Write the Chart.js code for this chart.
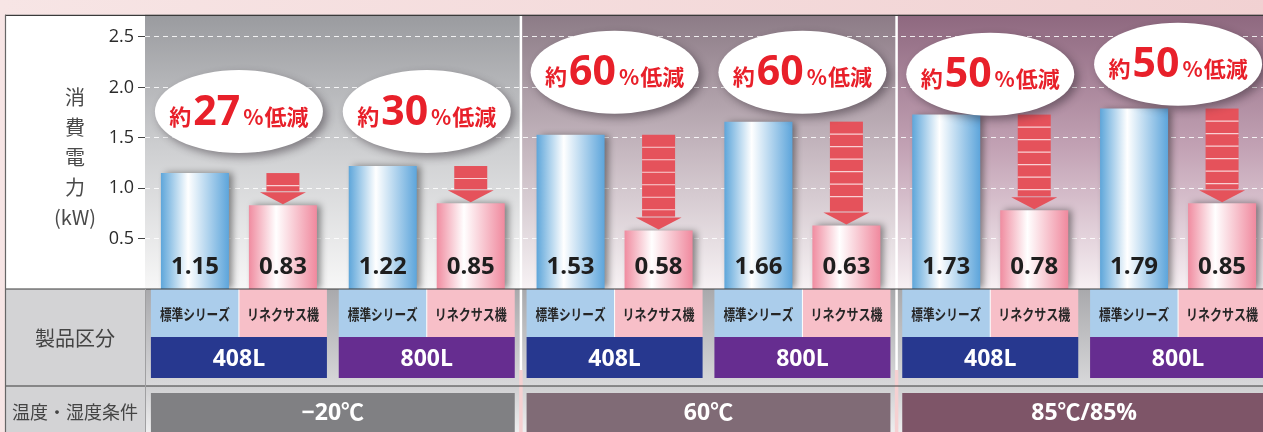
<!DOCTYPE html>
<html>
<head>
<meta charset="utf-8">
<script src="https://cdn.jsdelivr.net/npm/chart.js@4.4.1/dist/chart.umd.min.js"></script>
<style>
  html, body { margin: 0; padding: 0; overflow: hidden; background: #f6e2e2; }
  #wrap { width: 1272px; height: 432px; }
</style>
</head>
<body>
<div id="wrap"><canvas id="chart" width="1272" height="432"></canvas></div>
<script>
// data
const conditions = ['−20℃', '60℃', '85℃/85%'];
const capacities = ['408L', '800L', '408L', '800L', '408L', '800L'];
const seriesNames = ['標準シリーズ', 'リネクサス機'];
const standardKW = [1.15, 1.22, 1.53, 1.66, 1.73, 1.79];
const linexusKW = [0.83, 0.85, 0.58, 0.63, 0.78, 0.85];
const reductionPct = ['27', '30', '60', '60', '50', '50'];
const yTickValues = [0.5, 1.0, 1.5, 2.0, 2.5];
const axisTitle = ['消', '費', '電', '力', '(kW)'];
const rowTitles = ['製品区分', '温度・湿度条件'];

// layout / style
const calloutLevel = [1.76, 1.76, 2.15, 2.15, 2.13, 2.23]; // ellipse centre, in kW
const panelShades = [
  ['#9a9b9f', '#cfd0d2', '#f7f7f7'],
  ['#8c7b86', '#c6b8c0', '#f7f2f4'],
  ['#8e687f', '#c4a4b6', '#f7f0f3']
];
const tempColors = ['#808083', '#806b76', '#7e5568'];
const capColors = ['#27388f', '#662d90'];
const cellColors = ['#abcdeb', '#f7bfc8'];
const blueStops = ['#5ea6da', '#ffffff', '#5da5db'];
const pinkStops = ['#f08ca0', '#ffffff', '#f0899e'];
const JP = '"Noto Sans CJK JP", sans-serif';
const NUM = '"Open Sans", "Noto Sans CJK JP", sans-serif';
const ROW_SPLIT = 386;

function barFill(c, stops) {
  const el = c.chart.getDatasetMeta(c.datasetIndex).data[c.dataIndex];
  if (!el || !el.width) return stops[0];
  const g = c.chart.ctx.createLinearGradient(el.x - el.width / 2, 0, el.x + el.width / 2, 0);
  g.addColorStop(0, stops[0]);
  g.addColorStop(0.4, stops[1]);
  g.addColorStop(1, stops[2]);
  return g;
}

function panelEdges(chart) {
  const x = chart.scales.x;
  const half = (x.getPixelForValue(1) - x.getPixelForValue(0)) / 2;
  return conditions.map((c, p) => [x.getPixelForValue(2 * p) - half, x.getPixelForValue(2 * p + 1) + half]);
}

function text(ctx, s, x, y, font, color, maxW) {
  ctx.font = font;
  ctx.fillStyle = color;
  ctx.textAlign = 'center';
  ctx.textBaseline = 'middle';
  if (maxW) ctx.fillText(s, x, y, maxW); else ctx.fillText(s, x, y);
}

const decor = {
  id: 'decor',
  beforeDraw(chart) {
    const { ctx, chartArea: a, width, height } = chart;
    ctx.save();
    let g = ctx.createLinearGradient(0, 0, width, 0);
    g.addColorStop(0, '#f7e5e5');
    g.addColorStop(1, '#f1d1d2');
    ctx.fillStyle = g;
    ctx.fillRect(0, 0, width, height);

    ctx.fillStyle = '#ffffff';
    ctx.fillRect(5, a.top, a.left - 5, a.bottom - a.top);
    ctx.fillStyle = '#d3d3d5';
    ctx.fillRect(5, a.bottom, a.left - 5, height - a.bottom);

    const edges = panelEdges(chart);
    edges.forEach(([l, r], p) => {
      const pg = ctx.createLinearGradient(0, a.top, 0, a.bottom);
      pg.addColorStop(0, panelShades[p][0]);
      pg.addColorStop(0.5, panelShades[p][1]);
      pg.addColorStop(1, panelShades[p][2]);
      ctx.fillStyle = pg;
      ctx.fillRect(l, a.top, r - l, a.bottom - a.top);
    });

    // table background
    g = ctx.createLinearGradient(0, a.bottom, 0, ROW_SPLIT);
    g.addColorStop(0, '#a9a9ac');
    g.addColorStop(1, '#d8d8da');
    ctx.fillStyle = g;
    ctx.fillRect(a.left, a.bottom, width - a.left, ROW_SPLIT - a.bottom);
    g = ctx.createLinearGradient(0, ROW_SPLIT, 0, height);
    g.addColorStop(0, '#cfcfd1');
    g.addColorStop(1, '#eeeeef');
    ctx.fillStyle = g;
    ctx.fillRect(a.left, ROW_SPLIT, width - a.left, height - ROW_SPLIT);

    // panel separators
    edges.slice(1).forEach(([l]) => {
      ctx.fillStyle = '#ffffff';
      ctx.fillRect(l - 1, a.top, 2.5, 370 - a.top);
      ctx.fillStyle = '#f5d0d1';
      ctx.fillRect(l - 1.5, 370, 3.5, height - 370);
    });
    ctx.restore();
  },
  beforeDatasetsDraw(chart) {
    const ctx = chart.ctx;
    ctx.save();
    ctx.shadowColor = 'rgba(30,30,30,0.5)';
    ctx.shadowBlur = 7;
    ctx.shadowOffsetX = 4;
    ctx.shadowOffsetY = 0;
  },
  afterDatasetsDraw(chart) {
    const { ctx, chartArea: a } = chart;
    ctx.restore();
    const blue = chart.getDatasetMeta(0).data;
    const pink = chart.getDatasetMeta(1).data;
    const y = chart.scales.y;
    ctx.save();

    // arrows from standard level down to linexus level
    pink.forEach((pb, i) => {
      const top = blue[i].y;
      const tip = pb.y - 1;
      const head = 12;
      const shaftBottom = tip - head - 1;
      ctx.fillStyle = '#e5525b';
      ctx.fillRect(pb.x - 16.5, top, 33, shaftBottom - top);
      ctx.beginPath();
      ctx.moveTo(pb.x - 23, tip - head);
      ctx.lineTo(pb.x + 23, tip - head);
      ctx.lineTo(pb.x, tip);
      ctx.closePath();
      ctx.fill();
      ctx.strokeStyle = 'rgba(250,215,218,0.95)';
      ctx.lineWidth = 1.2;
      for (let s = top + 12.5; s < shaftBottom - 3; s += 12.5) {
        ctx.beginPath();
        ctx.moveTo(pb.x - 16.5, s);
        ctx.lineTo(pb.x + 16.5, s);
        ctx.stroke();
      }
    });

    // values inside bars
    [blue, pink].forEach((els, d) => {
      const vals = d === 0 ? standardKW : linexusKW;
      els.forEach((el, i) => text(ctx, vals[i].toFixed(2), el.x, a.bottom - 22, `bold 24px ${NUM}`, '#1e1e1e'));
    });

    // callout ellipses
    blue.forEach((bb, i) => {
      const cx = (bb.x + pink[i].x) / 2;
      const cy = y.getPixelForValue(calloutLevel[i]);
      ctx.save();
      ctx.shadowColor = 'rgba(40,30,40,0.45)';
      ctx.shadowBlur = 9;
      ctx.shadowOffsetX = 4;
      ctx.shadowOffsetY = 4;
      ctx.fillStyle = '#ffffff';
      ctx.beginPath();
      ctx.ellipse(cx, cy, 84, 41.5, 0, 0, Math.PI * 2);
      ctx.fill();
      ctx.restore();

      const parts = [
        ['約', `bold 22px ${JP}`, 2],
        [reductionPct[i], `bold 41px ${NUM}`, 3],
        ['%', `bold 21px ${JP}`, 1],
        ['低減', `bold 22px ${JP}`, 0]
      ];
      let total = 0;
      parts.forEach(p => { ctx.font = p[1]; p.push(ctx.measureText(p[0]).width); total += p[3] + p[2]; });
      let x = cx - total / 2;
      ctx.fillStyle = '#e8202a';
      ctx.textAlign = 'left';
      ctx.textBaseline = 'alphabetic';
      parts.forEach(p => {
        ctx.font = p[1];
        ctx.fillText(p[0], x, cy + 13);
        x += p[3] + p[2];
      });
    });
    ctx.restore();
  },
  afterDraw(chart) {
    const { ctx, chartArea: a, width, height } = chart;
    const blue = chart.getDatasetMeta(0).data;
    const pink = chart.getDatasetMeta(1).data;
    ctx.save();

    // product cells
    blue.forEach((bb, i) => {
      const slot = pink[i].x - bb.x;
      const l = bb.x - slot / 2;
      const r = pink[i].x + slot / 2;
      ctx.fillStyle = cellColors[0];
      ctx.fillRect(l, a.bottom, slot, 48);
      ctx.fillStyle = cellColors[1];
      ctx.fillRect(bb.x + slot / 2, a.bottom, slot, 48);
      ctx.fillStyle = '#ffffff';
      ctx.fillRect(bb.x + slot / 2 - 0.5, a.bottom, 1, 48);
      ctx.fillStyle = capColors[i % 2];
      ctx.fillRect(l, a.bottom + 48, r - l, 41);
      text(ctx, seriesNames[0], bb.x, a.bottom + 25, `bold 15px ${JP}`, '#262626', 70);
      text(ctx, seriesNames[1], pink[i].x, a.bottom + 25, `bold 15px ${JP}`, '#262626', 72);
      text(ctx, capacities[i], (l + r) / 2, a.bottom + 70, `bold 23px ${NUM}`, '#ffffff');
    });

    // condition cells
    conditions.forEach((c, p) => {
      const slot = pink[2 * p].x - blue[2 * p].x;
      const l = blue[2 * p].x - slot / 2;
      const r = pink[2 * p + 1].x + slot / 2;
      ctx.fillStyle = tempColors[p];
      ctx.fillRect(l, 393, r - l, height - 393);
      text(ctx, c, (l + r) / 2, 413, `bold 23px ${NUM}`, '#ffffff');
    });

    // frame
    ctx.strokeStyle = '#3a3a3a';
    ctx.lineWidth = 1.2;
    ctx.beginPath();
    ctx.moveTo(5, a.top + 0.5); ctx.lineTo(width, a.top + 0.5);
    ctx.moveTo(5, a.bottom); ctx.lineTo(width, a.bottom);
    ctx.moveTo(5, ROW_SPLIT); ctx.lineTo(width, ROW_SPLIT);
    ctx.stroke();
    ctx.strokeStyle = '#666';
    ctx.beginPath();
    ctx.moveTo(5.5, a.top); ctx.lineTo(5.5, height);
    ctx.stroke();
    ctx.strokeStyle = '#a0a0a2';
    ctx.lineWidth = 1;
    ctx.beginPath();
    ctx.moveTo(a.left + 0.5, a.bottom); ctx.lineTo(a.left + 0.5, height);
    ctx.stroke();

    // titles
    axisTitle.forEach((s, k) => text(ctx, s, 75, 97 + k * 30, `20px ${JP}`, '#4a4a4a'));
    text(ctx, rowTitles[0], 75, 338, `20px ${JP}`, '#444');
    text(ctx, rowTitles[1], 75, 412, `18px ${JP}`, '#444');
    ctx.restore();
  }
};

function build() {
  const chart = new Chart(document.getElementById('chart'), {
    type: 'bar',
    data: {
      labels: capacities,
      datasets: [
        { label: seriesNames[0], data: standardKW, backgroundColor: c => barFill(c, blueStops),
          categoryPercentage: 0.937, barPercentage: 0.773, borderWidth: 0 },
        { label: seriesNames[1], data: linexusKW, backgroundColor: c => barFill(c, pinkStops),
          categoryPercentage: 0.937, barPercentage: 0.773, borderWidth: 0 }
      ]
    },
    options: {
      responsive: false,
      animation: false,
      devicePixelRatio: 1,
      events: [],
      layout: { padding: { top: 9, bottom: 143, left: 0, right: 0 } },
      plugins: { legend: { display: false }, tooltip: { enabled: false } },
      scales: {
        x: { display: false, offset: true },
        y: {
          min: 0,
          max: 2.72,
          afterFit: s => { s.width = 145; },
          afterBuildTicks: s => { s.ticks = yTickValues.map(v => ({ value: v })); },
          ticks: { color: '#2b2b2b', font: { family: 'Open Sans', size: 18 }, padding: 4,
                   callback: v => Number(v).toFixed(1) },
          grid: { color: 'rgba(255,255,255,0.85)', lineWidth: 1, tickLength: 7,
                  tickColor: '#444', tickWidth: 1, tickBorderDash: [] },
          border: { display: false, dash: [5, 4] }
        }
      }
    },
    plugins: [decor]
  });
  chart.update();
}

Promise.all([
  document.fonts.load(`bold 20px "Noto Sans CJK JP"`),
  document.fonts.load(`20px "Noto Sans CJK JP"`),
  document.fonts.load(`bold 20px "Open Sans"`),
  document.fonts.load(`20px "Open Sans"`)
]).then(build, build);
</script>
</body>
</html>
